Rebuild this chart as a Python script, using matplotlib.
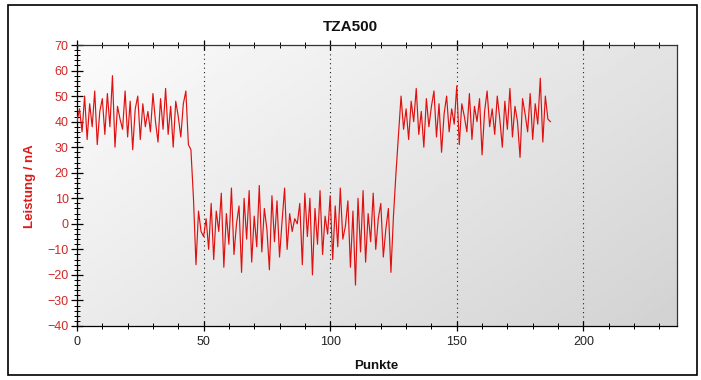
import numpy as np
import matplotlib
matplotlib.use("Agg")
import matplotlib.pyplot as plt
from matplotlib.ticker import MultipleLocator
from matplotlib.patches import Rectangle
from matplotlib import font_manager

title = "TZA500"
xlabel = "Punkte"
ylabel = "Leistung / nA"

seg_high1 = [40, 45, 36, 50, 33, 47, 38, 52, 31, 44,
             49, 35, 51, 38, 58, 30, 46, 41, 37, 52,
             34, 48, 29, 45, 50, 33, 47, 38, 44, 36,
             51, 40, 32, 49, 37, 53, 35, 46, 30, 48,
             42, 34, 47, 52, 31]
trans_down = [29, 10, -16, 5, -3]
seg_low = [-5, 2, -10, 8, -14, 5, -3, 12, -17, 4,
           -8, 14, -12, 0, 7, -19, 10, -6, 13, -15,
           3, -9, 15, -11, 6, -2, -18, 11, -7, 9,
           -13, 1, 14, -10, 4, -3, 2, 0, 8, -16,
           12, -5, 10, -20, 6, -8, 13, -12, 3, -4,
           11, -14, 7, -9, 14, -6, -1, 9, -17, 5,
           -24, 10, -11, 13, -15, 4, -7, 12, -10, 2,
           8, -13, -2, 6, -19, 3]
trans_up = [20, 35]
seg_high2 = [50, 37, 45, 33, 48, 40, 53, 35, 44, 30,
             49, 38, 46, 52, 34, 47, 28, 43, 50, 36,
             45, 39, 54, 31, 47, 42, 36, 51, 33, 46,
             40, 49, 27, 44, 52, 38, 45, 35, 50, 41,
             30, 48, 37, 53, 34, 46, 40, 26, 49, 43,
             36, 51, 33, 47, 39, 57, 32, 50, 41, 40]

values = seg_high1 + trans_down + seg_low + trans_up + seg_high2
points = list(range(len(values)))

x_major = [0, 50, 100, 150, 200]
y_major = [-40, -30, -20, -10, 0, 10, 20, 30, 40, 50, 60, 70]

avail = {f.name for f in font_manager.fontManager.ttflist}
fam = "Liberation Sans Narrow" if "Liberation Sans Narrow" in avail else "Liberation Sans"
plt.rcParams['font.family'] = [fam, 'DejaVu Sans']

fig = plt.figure(figsize=(7.01, 3.80), dpi=100)
fig.patch.set_facecolor("white")
fig.patches.append(Rectangle((8/701, 5/380), 689/701, 370/380, transform=fig.transFigure,
                             fill=False, edgecolor="black", linewidth=1.2, zorder=0))

ax = fig.add_axes([77/701, 1-326/380, (677-77)/701, (326-45)/380])

# gradient background
gx = np.linspace(0, 1, 200)
gy = np.linspace(0, 1, 100)
GX, GY = np.meshgrid(gx, gy)
grad = 0.985 - 0.16 * (0.6*GX + 0.4*GY)
ax.imshow(grad, extent=[0, 1, 0, 1], transform=ax.transAxes, cmap="gray",
          vmin=0, vmax=1, aspect="auto", zorder=0, origin="upper", interpolation="bilinear")

ax.plot(points, values, color="#e01010", linewidth=0.85, zorder=3)

ax.set_xlim(0, 237)
ax.set_ylim(-40, 70)
ax.set_xticks(x_major)
ax.set_yticks(y_major)
ax.xaxis.set_minor_locator(MultipleLocator(10))
ax.yaxis.set_minor_locator(MultipleLocator(2))

for xv in x_major[1:]:
    ax.axvline(xv, color="#222222", linestyle=(0, (1, 3)), linewidth=0.8, zorder=2)

ax.tick_params(axis="x", which="major", direction="inout", length=7, width=0.9,
               colors="black", labelsize=9, top=True, pad=4)
ax.tick_params(axis="x", which="minor", direction="inout", length=4, width=0.7, top=True)
ax.tick_params(axis="y", which="major", direction="inout", length=8, width=0.9,
               color="black", labelcolor="#d02828", labelsize=9, pad=2)
ax.tick_params(axis="y", which="minor", direction="inout", length=4, width=0.7)
ax.tick_params(axis="x", labelcolor="#222222")
ax.tick_params(labeltop=False)

for s in ax.spines.values():
    s.set_color("#333333")
    s.set_linewidth(0.9)
ax.spines["left"].set_color("black")
ax.spines["bottom"].set_color("black")

fig.text(0.5 + 0.0, 1 - 27/380, title, ha="center", va="center", fontsize=11,
         fontweight="bold", color="#111111")
fig.text(376/701, 1 - 366/380, xlabel, ha="center", va="center", fontsize=9.5,
         fontweight="bold", color="#111111")
fig.text(30/701, 1 - 186/380, ylabel, ha="center", va="center", fontsize=9.5,
         fontweight="bold", color="#e01818", rotation=90)

fig.savefig("out.png", dpi=100)
